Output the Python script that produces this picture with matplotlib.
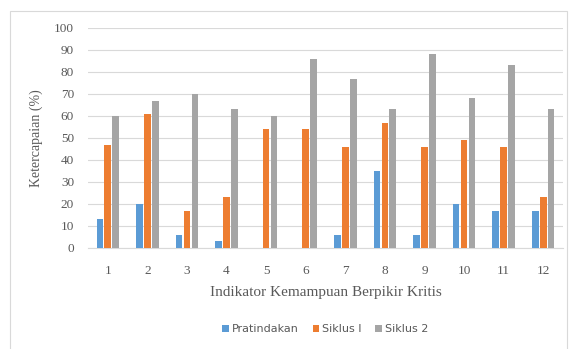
import numpy as np
import matplotlib.pyplot as plt
from matplotlib.patches import Rectangle

categories = [str(i) for i in range(1, 13)]
pratindakan = [13, 20, 6, 3, 0, 0, 6, 35, 6, 20, 17, 17]
siklus_1 = [47, 61, 17, 23, 54, 54, 46, 57, 46, 49, 46, 23]
siklus_2 = [60, 67, 70, 63, 60, 86, 77, 63, 88, 68, 83, 63]
series_names = ['Pratindakan', 'Siklus I', 'Siklus 2']
colors = ['#5B9BD5', '#ED7D31', '#A5A5A5']

fig = plt.figure(figsize=(5.77, 3.49), dpi=100)
# chart area border (bottom edge lies outside the image)
fig.patches.append(Rectangle((10 / 577, -0.05), 557 / 577, (338 / 349) + 0.05,
                             transform=fig.transFigure, fill=False,
                             edgecolor='#D9D9D9', linewidth=0.8))
ax = fig.add_axes([88 / 577, 101 / 349, 475 / 577, 220 / 349])

x = np.arange(1, 13)
w = 0.17
for i, (vals, name, c) in enumerate(zip([pratindakan, siklus_1, siklus_2], series_names, colors)):
    ax.bar(x + (i - 1) * 0.2, vals, width=w, color=c, label=name, zorder=3)

ax.set_xlim(0.5, 12.5)
ax.set_ylim(0, 100)
ax.set_yticks(range(0, 101, 10))
ax.set_xticks(x)
ax.set_xticklabels(categories)
ax.grid(axis='y', color='#D9D9D9', linewidth=0.8, zorder=0)
for s in ['top', 'right', 'left']:
    ax.spines[s].set_visible(False)
ax.spines['bottom'].set_color('#D9D9D9')
ax.tick_params(length=0, labelsize=9.5, labelcolor='#595959')
ax.tick_params(axis='x', pad=12)
ax.tick_params(axis='y', pad=10)
for t in ax.get_xticklabels() + ax.get_yticklabels():
    t.set_family('Liberation Serif')

ax.set_xlabel('Indikator Kemampuan Berpikir Kritis', family='Liberation Serif',
              fontsize=11, color='#595959', labelpad=7)
ax.set_ylabel('Ketercapaian (%)', family='Liberation Serif',
              fontsize=10, color='#595959', labelpad=8)

ax.legend(loc='center', bbox_to_anchor=(0.5, -0.37), ncol=3, frameon=False,
          fontsize=8, handlelength=0.6, handleheight=0.6, handletextpad=0.3,
          columnspacing=1.2, labelcolor='#595959')

fig.savefig('out.png', dpi=100)
